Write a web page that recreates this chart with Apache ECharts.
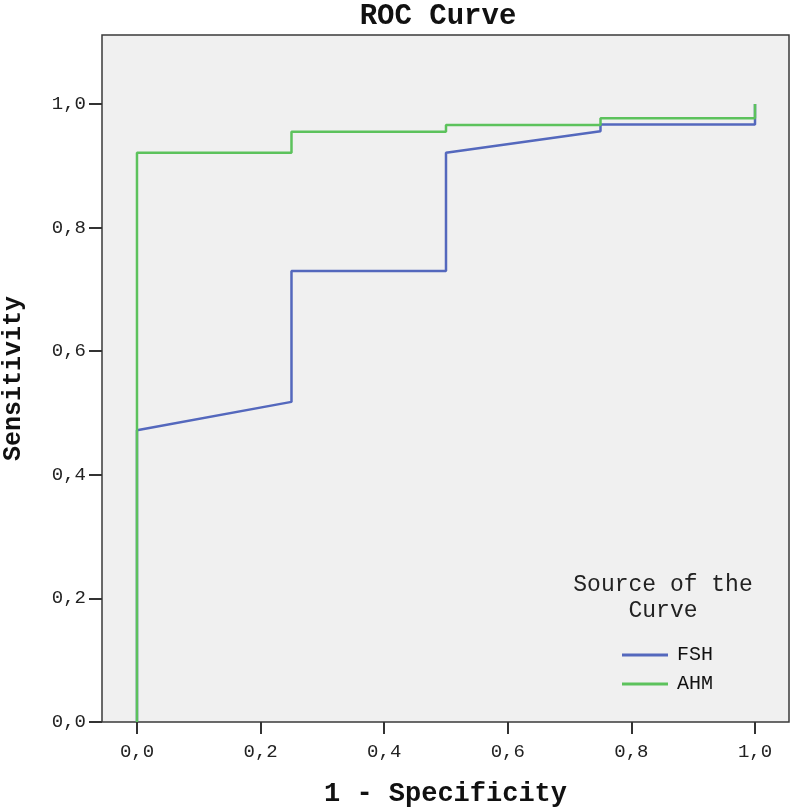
<!DOCTYPE html>
<html>
<head>
<meta charset="utf-8">
<script src="https://cdn.jsdelivr.net/npm/echarts@6/dist/echarts.min.js"></script>
<style>html,body{margin:0;padding:0;background:#fff}#c{width:793px;height:807px}</style>
</head>
<body>
<div id="c"></div>
<script>
// ROC curve points (1 - specificity, sensitivity)
var fshX = [0, 0, 0.25, 0.25, 0.5, 0.5, 0.75, 0.75, 1, 1];
var fshY = [0, 0.472, 0.518, 0.730, 0.730, 0.921, 0.956, 0.967, 0.967, 1];
var ahmX = [0, 0, 0.25, 0.25, 0.5, 0.5, 0.75, 0.75, 1, 1];
var ahmY = [0, 0.921, 0.921, 0.955, 0.955, 0.966, 0.966, 0.977, 0.977, 1];
var tickValues = [0, 0.2, 0.4, 0.6, 0.8, 1.0];
var seriesNames = ['FSH', 'AHM'];

function pairs(xs, ys) { return xs.map(function (x, i) { return [x, ys[i]]; }); }
function fmt(v) { return v.toFixed(1).replace('.', ','); }

var mono = 'Liberation Mono';
var chart = echarts.init(document.getElementById('c'));
chart.setOption({
  animation: false,
  backgroundColor: '#ffffff',
  title: {
    text: 'ROC Curve', left: 433, top: -3, textAlign: 'center',
    textStyle: { fontFamily: mono, fontWeight: 'bold', fontSize: 29, color: '#111' }
  },
  grid: {
    left: 102, top: 35, right: 4, bottom: 85, outerBoundsMode: 'none', containLabel: false,
    show: true, backgroundColor: '#f0f0f0', borderColor: '#3a3a3a', borderWidth: 1.5
  },
  legend: {
    data: seriesNames, orient: 'vertical', left: 617, top: 640,
    icon: 'path://M0,0 L46,0 L46,3 L0,3 Z',
    itemWidth: 46, itemHeight: 3, itemGap: 9,
    textStyle: { fontFamily: mono, fontSize: 20, color: '#111', padding: [0, 0, 0, 4] }
  },
  graphic: [{
    type: 'text', x: 663, y: 572,
    style: { text: 'Source of the\nCurve', textAlign: 'center',
      fontFamily: mono, fontSize: 23, fill: '#222', lineHeight: 26 }
  }],
  xAxis: {
    type: 'value', min: -0.0566, max: 1.055,
    name: '1 - Specificity', nameLocation: 'middle', nameGap: 59,
    nameTextStyle: { fontFamily: mono, fontWeight: 'bold', fontSize: 27, color: '#111' },
    axisLine: { show: false, onZero: false },
    axisTick: { show: true, length: 12, lineStyle: { color: '#333', width: 2 }, customValues: tickValues },
    axisLabel: { fontFamily: mono, fontSize: 19, color: '#222', margin: 20, customValues: tickValues, formatter: fmt },
    splitLine: { show: false }
  },
  yAxis: {
    type: 'value', min: 0, max: 1.1117,
    name: 'Sensitivity', nameLocation: 'middle', nameGap: 76, nameRotate: 90,
    nameTextStyle: { fontFamily: mono, fontWeight: 'bold', fontSize: 25, color: '#111' },
    axisLine: { show: false, onZero: false },
    axisTick: { show: true, length: 13, lineStyle: { color: '#333', width: 2 }, customValues: tickValues },
    axisLabel: { fontFamily: mono, fontSize: 19, color: '#222', margin: 16, customValues: tickValues, formatter: fmt },
    splitLine: { show: false }
  },
  series: [
    { name: seriesNames[0], type: 'line', symbol: 'none', data: pairs(fshX, fshY),
      lineStyle: { color: '#5468bd', width: 2.5 }, itemStyle: { color: '#5468bd' } },
    { name: seriesNames[1], type: 'line', symbol: 'none', data: pairs(ahmX, ahmY),
      lineStyle: { color: '#5cc25c', width: 2.5 }, itemStyle: { color: '#5cc25c' } }
  ]
});
</script>
</body>
</html>
